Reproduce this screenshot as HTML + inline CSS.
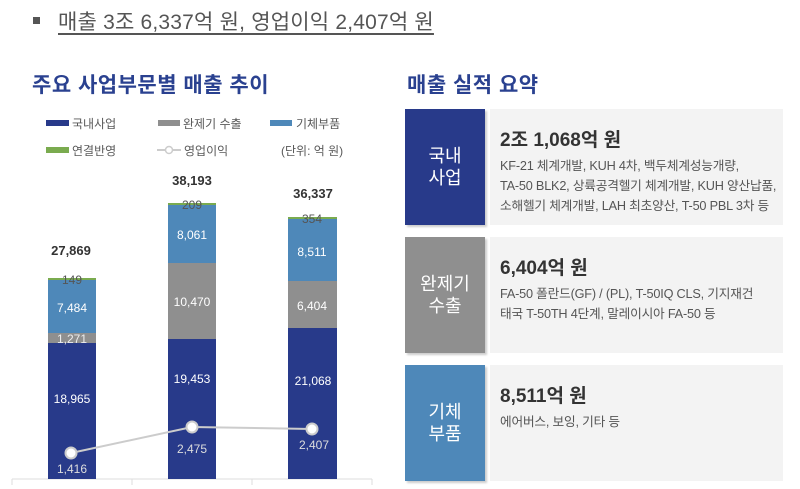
<!DOCTYPE html><html><head><meta charset="utf-8"><style>
body{margin:0;width:800px;height:489px;background:#fff;overflow:hidden;font-family:"Liberation Sans","Noto Sans CJK KR",sans-serif;position:relative}
.a{position:absolute;white-space:nowrap}
.lab{position:absolute;left:405px;width:80px;color:#fff;font-size:18px;line-height:22px;text-align:center;display:flex;align-items:center;justify-content:center;box-shadow:2px 2px 2px rgba(0,0,0,.2)}
.box{position:absolute;left:490px;width:293px;background:#f3f3f3;color:#555}
.box b{display:block;font-size:19px;color:#333;margin:16px 0 4px 10px}
.box p{margin:0 0 0 10px;font-size:12.7px;line-height:20px;letter-spacing:-0.2px}
</style></head><body>
<div class="a" style="left:33px;top:17px;width:7px;height:7px;background:#555"></div>
<div class="a" style="left:58px;top:6px;font-size:21px;color:#555;text-decoration:underline;text-underline-offset:4px;letter-spacing:0.2px">매출 3조 6,337억 원, 영업이익 2,407억 원</div>
<div class="a" style="left:32px;top:69px;font-size:21px;font-weight:bold;color:#2a4190;letter-spacing:0.5px">주요 사업부문별 매출 추이</div>
<div class="a" style="left:407px;top:69px;font-size:21px;font-weight:bold;color:#2a4190;letter-spacing:0.5px">매출 실적 요약</div>
<svg class="a" style="left:0;top:0" width="390" height="489" font-family="Liberation Sans,Noto Sans CJK KR,sans-serif">
<g font-size="12" fill="#595959">
<rect x="46" y="120" width="23" height="6" fill="#283a8a"/><text x="72" y="128">국내사업</text>
<rect x="158" y="120" width="22" height="6" fill="#8f8f8f"/><text x="183" y="128">완제기 수출</text>
<rect x="270" y="120" width="22" height="6" fill="#4e88b9"/><text x="296" y="128">기체부품</text>
<rect x="46" y="147" width="23" height="6" fill="#7aab4f"/><text x="72" y="155">연결반영</text>
<line x1="157" y1="150" x2="181" y2="150" stroke="#ccc" stroke-width="2"/><circle cx="169" cy="150" r="3.5" fill="#fff" stroke="#ccc" stroke-width="1.5"/><text x="184" y="155">영업이익</text>
<text x="281" y="155">(단위: 억 원)</text>
</g>
<line x1="12" y1="479" x2="372" y2="479" stroke="#ddd"/>
<line x1="12" y1="479" x2="12" y2="485" stroke="#ddd"/><line x1="132" y1="479" x2="132" y2="485" stroke="#ddd"/><line x1="252" y1="479" x2="252" y2="485" stroke="#ddd"/><line x1="372" y1="479" x2="372" y2="485" stroke="#ddd"/>
<rect x="48" y="278" width="48" height="2" fill="#7aab4f"/><rect x="48" y="280" width="48" height="53" fill="#4e88b9"/><rect x="48" y="333" width="48" height="10" fill="#8f8f8f"/><rect x="48" y="343" width="48" height="136" fill="#283a8a"/>
<rect x="168" y="203" width="48" height="2" fill="#7aab4f"/><rect x="168" y="205" width="48" height="58" fill="#4e88b9"/><rect x="168" y="263" width="48" height="76" fill="#8f8f8f"/><rect x="168" y="339" width="48" height="140" fill="#283a8a"/>
<rect x="288" y="217" width="49" height="2" fill="#7aab4f"/><rect x="288" y="219" width="49" height="62" fill="#4e88b9"/><rect x="288" y="281" width="49" height="47" fill="#8f8f8f"/><rect x="288" y="328" width="49" height="151" fill="#283a8a"/>
<g font-size="13" font-weight="bold" fill="#333" text-anchor="middle"><text x="71" y="255">27,869</text><text x="192" y="185">38,193</text><text x="313" y="198">36,337</text></g>
<g font-size="12" text-anchor="middle" fill="#fff">
<text x="72" y="284" fill="#555">149</text><text x="72" y="312">7,484</text><text x="72" y="343" fill="#eee">1,271</text><text x="72" y="403">18,965</text>
<text x="192" y="209" fill="#555">209</text><text x="192" y="239">8,061</text><text x="192" y="306">10,470</text><text x="192" y="383">19,453</text>
<text x="312" y="223" fill="#555">354</text><text x="312" y="256">8,511</text><text x="312" y="310">6,404</text><text x="313" y="385">21,068</text>
<text x="72" y="473" fill="#ddd">1,416</text><text x="192" y="453" fill="#ddd">2,475</text><text x="314" y="449" fill="#ddd">2,407</text>
</g>
<polyline points="71,453 192,427 312,429" fill="none" stroke="#ccc" stroke-width="2"/>
<g fill="#fff" stroke="#ccc" stroke-width="2"><circle cx="71" cy="453" r="5.5"/><circle cx="192" cy="427" r="5.5"/><circle cx="312" cy="429" r="5.5"/></g>
</svg>
<div class="lab" style="top:109px;height:116px;background:#283a8a">국내<br>사업</div>
<div class="box" style="top:109px;height:116px"><b>2조 1,068억 원</b><p>KF-21 체계개발, KUH 4차, 백두체계성능개량,<br>TA-50 BLK2, 상륙공격헬기 체계개발, KUH 양산납품,<br>소해헬기 체계개발, LAH 최초양산, T-50 PBL 3차 등</p></div>
<div class="lab" style="top:237px;height:116px;background:#8f8f8f">완제기<br>수출</div>
<div class="box" style="top:237px;height:116px"><b>6,404억 원</b><p>FA-50 폴란드(GF) / (PL), T-50IQ CLS, 기지재건<br>태국 T-50TH 4단계, 말레이시아 FA-50 등</p></div>
<div class="lab" style="top:365px;height:116px;background:#4e88b9">기체<br>부품</div>
<div class="box" style="top:365px;height:116px"><b>8,511억 원</b><p>에어버스, 보잉, 기타 등</p></div>
</body></html>
